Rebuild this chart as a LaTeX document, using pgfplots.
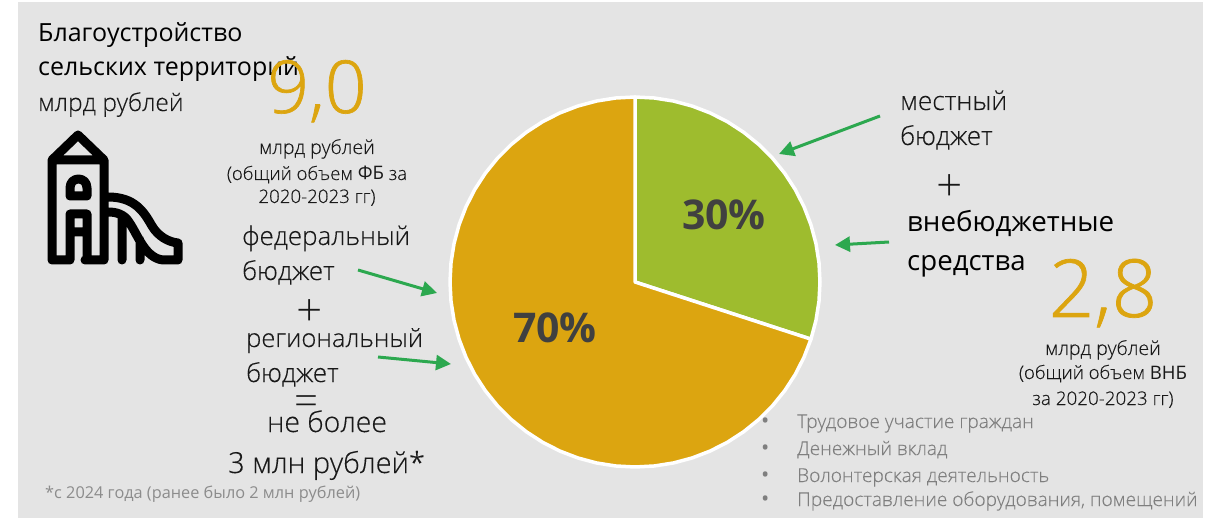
\documentclass[border=0pt]{standalone}
\usepackage{pgfplots}
\pgfplotsset{compat=1.18}
\usepgfplotslibrary{polar}
\usetikzlibrary{arrows.meta}
\usepackage{fontspec}
\setmainfont{Open Sans}
\newfontfamily\lightf{Open Sans Light}[RawFeature={embolden=0.25}]
\newfontfamily\thinf{Open Sans Light}
\newfontfamily\goldf{Open Sans Light}[RawFeature={embolden=0.9}]
\definecolor{bg}{HTML}{E4E4E4}
\definecolor{gold}{HTML}{DCA510}
\definecolor{lime}{HTML}{9EBC2E}
\definecolor{arrowg}{HTML}{2CA84F}
\definecolor{greytxt}{HTML}{7F7F7F}
\definecolor{foot}{HTML}{8C8C8C}
\colorlet{ink}{black!90}
\newcommand{\sz}[1]{\fontsize{#1pt}{#1pt}\selectfont}
\newcommand{\li}[2]{\node[anchor=base west,inner sep=0,text=greytxt] at (761,#1) {\sz{22}•};
  \node[anchor=base west,inner sep=0,text=greytxt] at (797,#1) {\lightf\sz{19.1}#2};}
\begin{document}
\begin{tikzpicture}[x=1pt,y=1pt]
\useasboundingbox (0,0) rectangle (1220,518);
\fill[bg] (18,0) rectangle (1203,516);
\begin{polaraxis}[at={(635pt,236pt)},anchor=center,scale only axis,width=370pt,height=370pt,
  hide axis,ymin=0,ymax=185,xmin=0,xmax=360,clip=false]
\addplot[fill=lime,draw=white,line width=3.5pt,line join=round] coordinates {(90,0)
(90,185)(84,185)(78,185)(72,185)(66,185)(60,185)(54,185)(48,185)(42,185)(36,185)(30,185)(24,185)(18,185)(12,185)(6,185)(0,185)(-6,185)(-12,185)(-18,185)
(-18,0)} --cycle;
\addplot[fill=gold,draw=white,line width=3.5pt,line join=round] coordinates {(-18,0)
(-18,185)(-24,185)(-30,185)(-36,185)(-42,185)(-48,185)(-54,185)(-60,185)(-66,185)(-72,185)(-78,185)(-84,185)(-90,185)(-96,185)(-102,185)(-108,185)(-114,185)(-120,185)(-126,185)(-132,185)(-138,185)(-144,185)(-150,185)(-156,185)(-162,185)(-168,185)(-174,185)(-180,185)(-186,185)(-192,185)(-198,185)(-204,185)(-210,185)(-216,185)(-222,185)(-228,185)(-234,185)(-240,185)(-246,185)(-252,185)(-258,185)(-264,185)(-270,185)
(-270,0)} --cycle;
\end{polaraxis}
\begin{axis}[at={(0pt,0pt)},anchor=south west,scale only axis,width=1220pt,height=518pt,
  xmin=0,xmax=1220,ymin=0,ymax=518,y dir=reverse,hide axis,clip=false]
% icon
\draw[black,line width=9pt,line join=round,line cap=round]
 (52,260)--(52,160)--(104,160)--(104,260)--(85,260) (52,260)--(70,260)
 (52,160)--(78,135)--(104,160)
 (70,196)--(70,188) .. controls (70,176) and (87,176) .. (87,188) -- (87,196) -- cycle
 (70,260)--(70,214)--(87,214)--(87,260) (70,232)--(87,232)
 (108,197) .. controls (135,197) and (144,212) .. (152,226) .. controls (158,236) and (168,242) .. (178,243)
 -- (178,260) -- (163,260) .. controls (145,258) and (138,235) .. (129,222) .. controls (124,214) and (116,212) .. (108,212)
 (122,217)--(122,260) (140,240)--(140,260);
% arrows
\draw[arrowg,line width=3pt,-{Triangle[length=15pt,width=15pt]}] (358,270)--(437,293);
\draw[arrowg,line width=3pt,-{Triangle[length=15pt,width=15pt]}] (378,357)--(451,364);
\draw[arrowg,line width=3pt,-{Triangle[length=15pt,width=15pt]}] (880,116)--(779,154);
\draw[arrowg,line width=3pt,-{Triangle[length=15pt,width=15pt]}] (889,242)--(835,245);
% title
\node[anchor=base west,inner sep=0] at (38,42) {\sz{25}Благоустройство};
\node[anchor=base west,inner sep=0] at (38,76) {\sz{25}сельских территорий};
\node[anchor=base west,inner sep=0,text=ink] at (38,111) {\lightf\sz{24.5}млрд рублей};
\node[anchor=base,inner sep=0,text=gold] at (317,113) {\goldf\sz{73}9,0};
\node[anchor=base,inner sep=0,text=ink] at (317,154) {\lightf\sz{19.5}млрд рублей};
\node[anchor=base,inner sep=0,text=ink] at (317,180) {\lightf\sz{18.6}(общий объем {\normalfont ФБ} за};
\node[anchor=base,inner sep=0,text=ink] at (317,203) {\lightf\sz{18.7}2020-2023 гг)};
\node[anchor=base west,inner sep=0,text=ink] at (242,245) {\lightf\sz{25.9}федеральный};
\node[anchor=base west,inner sep=0,text=ink] at (242,280) {\lightf\sz{26}бюджет};
\node[anchor=center,inner sep=0,text=ink] at (310,313) {\thinf\sz{46}+};
\node[anchor=base west,inner sep=0,text=ink] at (246,347) {\lightf\sz{25.5}региональный};
\node[anchor=base west,inner sep=0,text=ink] at (246,382) {\lightf\sz{26}бюджет};
\node[anchor=center,inner sep=0,text=ink] at (306,406) {\thinf\sz{42}=};
\node[anchor=base,inner sep=0,text=ink] at (327,432) {\lightf\sz{28.4}не более};
\node[anchor=base west,inner sep=0,text=ink] at (228,473) {\lightf\sz{29}3 млн рублей*};
\node[anchor=base west,inner sep=0,text=foot] at (45,498) {\sz{16.3}*с 2024 года (ранее было 2 млн рублей)};
% right
\node[anchor=base west,inner sep=0,text=ink] at (900,110) {\lightf\sz{26.2}местный};
\node[anchor=base west,inner sep=0,text=ink] at (900,145) {\lightf\sz{26}бюджет};
\node[anchor=center,inner sep=0,text=ink] at (950,188) {\thinf\sz{46}+};
\node[anchor=base west,inner sep=0] at (907,232) {\sz{27.7}внебюджетные};
\node[anchor=base west,inner sep=0] at (907,271) {\sz{27.6}средства};
\node[anchor=base,inner sep=0,text=gold] at (1103,317) {\goldf\sz{80}2,8};
\node[anchor=base,inner sep=0,text=ink] at (1103,355) {\lightf\sz{19.5}млрд рублей};
\node[anchor=base,inner sep=0,text=ink] at (1103,379) {\lightf\sz{18.6}(общий объем {\normalfont ВНБ}};
\node[anchor=base,inner sep=0,text=ink] at (1103,405) {\lightf\sz{18.8}за 2020-2023 гг)};
\li{428}{Трудовое участие граждан}
\li{455}{Денежный вклад}
\li{482}{Волонтерская деятельность}
\li{506}{Предоставление оборудования, помещений}
\node[anchor=base,inner sep=0,text=black!75,font=\bfseries] at (724,230) {\sz{41}30\%};
\node[anchor=base,inner sep=0,text=black!75,font=\bfseries] at (555,342) {\sz{41}70\%};
\end{axis}
\end{tikzpicture}
\end{document}
